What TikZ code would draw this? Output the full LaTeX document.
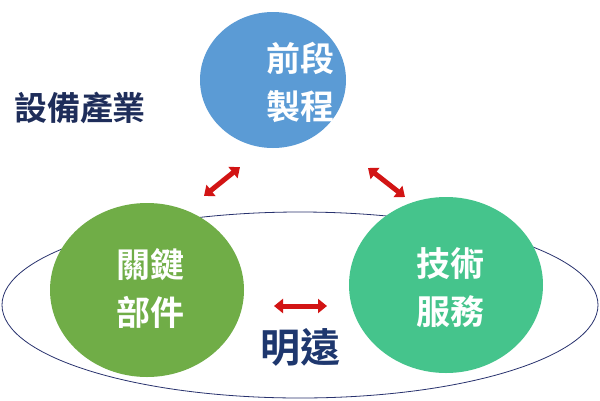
\documentclass[tikz,border=0pt]{standalone}
\usepackage{fontspec}
\newfontfamily\cjk{Noto Sans CJK TC Bold}
\usetikzlibrary{arrows.meta}
\definecolor{ered}{RGB}{210,20,20}
\definecolor{eline}{RGB}{40,50,110}
\definecolor{cblue}{RGB}{91,155,213}
\definecolor{cgreen}{RGB}{112,173,71}
\definecolor{cteal}{RGB}{69,196,140}
\definecolor{tnavy}{RGB}{30,45,90}
\definecolor{tblue}{RGB}{30,55,110}
\begin{document}
\begin{tikzpicture}[x=1pt,y=-1pt,
  lbl/.style={font=\cjk\fontsize{34}{48}\selectfont, text=white, align=center},
  dbl/.style={{Triangle[length=9pt,width=14pt]}-{Triangle[length=9pt,width=14pt]}, line width=5pt, draw=ered}]
\useasboundingbox (0,0) rectangle (600,400);
\fill[white] (0,0) rectangle (600,400);
\draw[draw=eline, line width=0.8pt] (300,305) ellipse [x radius=298, y radius=93];
\fill[cblue] (273,80) ellipse [x radius=73, y radius=68];
\fill[cgreen] (147,290) ellipse [x radius=97, y radius=87];
\fill[cteal] (446,285) ellipse [x radius=97, y radius=88];
\node[lbl] (a) at (300,82) {前段\\製程};
\node[lbl] (b) at (150,288) {關鍵\\部件};
\node[lbl] (c) at (450,288) {技術\\服務};
\node[font=\cjk\fontsize{33}{38}\selectfont, text=tnavy] (t) at (80,108) {設備產業};
\node[font=\cjk\fontsize{40}{44}\selectfont, text=tblue] (m) at (300,347) {明遠};
\coordinate (a1) at (204,196); \coordinate (a2) at (240,167);
\coordinate (b1) at (368,168); \coordinate (b2) at (405,197);
\coordinate (c1) at (274,306); \coordinate (c2) at (327,306);
\draw[dbl] (a1) -- (a2);
\draw[dbl] (b1) -- (b2);
\draw[dbl] (c1) -- (c2);
\end{tikzpicture}
\end{document}
